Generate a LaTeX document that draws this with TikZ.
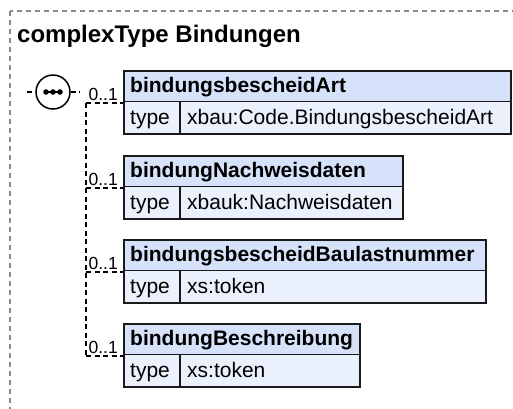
\documentclass[tikz,border=0pt]{standalone}
\usepackage{fontspec}
\setmainfont{Liberation Sans}
\definecolor{hdrblue}{HTML}{D6E2F9}
\definecolor{typeblue}{HTML}{EAF1FD}
\definecolor{framegray}{HTML}{8A8A8A}
\definecolor{boxline}{HTML}{1A1A1A}
\definecolor{shadowgray}{HTML}{CFCFCF}
\tikzset{
  outerframe/.style={draw=framegray, line width=1.2pt, dash pattern=on 5pt off 4pt},
  conn/.style={draw=black, line width=1.1pt, dash pattern=on 5pt off 3.5pt},
  titletext/.style={inner sep=0pt, font=\fontsize{24}{28}\selectfont\bfseries},
  hdrtext/.style={inner sep=0pt, font=\fontsize{21}{25}\selectfont\bfseries},
  typetext/.style={inner sep=0pt, font=\fontsize{21}{25}\selectfont},
  cardtext/.style={inner sep=0pt, font=\fontsize{17.5}{20}\selectfont},
  elembox/.style={draw=boxline, line width=1.5pt, inner sep=0pt, anchor=north west, minimum height=63pt},
  seqcircle/.style={circle, draw=black, line width=1.5pt, fill=white, minimum size=34pt, inner sep=0pt},
}
\newcommand\elbox[5]{%
  \fill[shadowgray] (125,#2+2) rectangle (#3+2,#2+65);
  \fill[hdrblue] (123,#2) rectangle (#3,#2+31.5);
  \fill[typeblue] (123,#2+31.5) rectangle (#3,#2+63);
  \node[elembox, minimum width={(#3-123)*1pt}] (#1) at (123,#2) {};
  \draw[boxline, line width=1.5pt] (123,#2+31.5) -- (#3,#2+31.5);
  \draw[boxline, line width=1.5pt] (180,#2+31.5) -- (180,#2+63);
  \node[hdrtext, anchor=base west] (#1h) at (130,#2+22.5) {#4};
  \node[typetext, anchor=base west] (#1k) at (130,#2+54) {type};
  \node[typetext, anchor=base west] (#1t) at (187,#2+54) {#5};
}
\begin{document}
\begin{tikzpicture}[x=1pt,y=-1pt]
\useasboundingbox (0,0) rectangle (513,408);
\clip (0,0) rectangle (513,408);
\fill[white] (0,0) rectangle (513,408);
\draw[outerframe] (10,11) rectangle (545,445);
\node[titletext, anchor=base west] (title) at (17,42) {complexType Bindungen};

\elbox{b1}{70}{510}{bindungsbescheidArt}{xbau:Code.BindungsbescheidArt}
\elbox{b2}{155}{402}{bindungNachweisdaten}{xbauk:Nachweisdaten}
\elbox{b3}{239}{485}{bindungsbescheidBaulastnummer}{xs:token}
\elbox{b4}{323}{359}{bindungBeschreibung}{xs:token}

% sequence symbol
\node[seqcircle] (seq) at (53,92) {};
\draw[line width=1.3pt] ([xshift=-7pt]seq.center) -- ([xshift=7pt]seq.center);
\fill ([xshift=-7pt]seq.center) circle (2.8);
\fill (seq.center) circle (2.8);
\fill ([xshift=7pt]seq.center) circle (2.8);
\coordinate (sl) at (27,92);
\coordinate (sr) at (80,92);
\draw[conn] (sl) -- (seq.west);
\draw[conn] (seq.east) -- (sr);

% branches
\coordinate (v1) at (86,103);
\coordinate (v2) at (86,188);
\coordinate (v3) at (86,272);
\coordinate (v4) at (86,356);
\draw[conn] (v1) -- (v4);
\draw[conn] (v1) -- (v1 -| b1.west);
\draw[conn] (v2) -- (v2 -| b2.west);
\draw[conn] (v3) -- (v3 -| b3.west);
\draw[conn] (v4) -- (v4 -| b4.west);
\node[cardtext, anchor=base east] (c1) at (118,100) {0..1};
\node[cardtext, anchor=base east] (c2) at (118,185) {0..1};
\node[cardtext, anchor=base east] (c3) at (118,269) {0..1};
\node[cardtext, anchor=base east] (c4) at (118,353) {0..1};
\end{tikzpicture}
\end{document}
